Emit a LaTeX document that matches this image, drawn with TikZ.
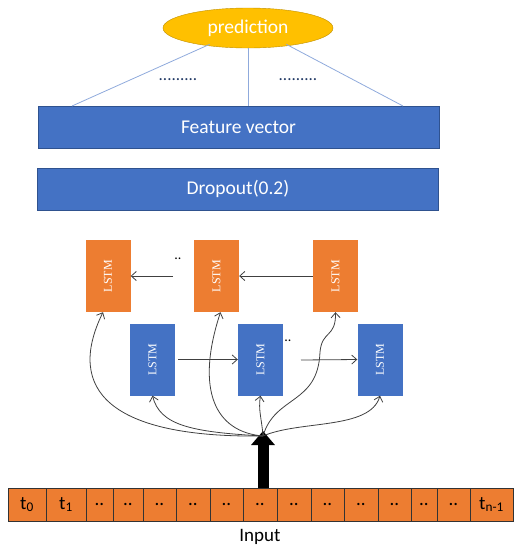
\documentclass[tikz,border=0pt]{standalone}
\usepackage{fontspec}
\setmainfont{Carlito}
\newfontfamily\lstmfont{Liberation Serif}
\usepackage{tikz}
\usepackage{xcolor}
\usetikzlibrary{positioning, arrows.meta, shapes.geometric, calc}
\definecolor{mBlue}{HTML}{4472C4}
\definecolor{mBlueDark}{HTML}{2F528F}
\definecolor{mOrange}{HTML}{ED7D31}
\definecolor{mGold}{HTML}{FFC000}
\definecolor{mGoldDark}{HTML}{C09000}
\definecolor{mLine}{HTML}{8FAADC}
\definecolor{mNavy}{HTML}{203864}
\definecolor{mGray}{HTML}{404040}

\begin{document}
\begin{tikzpicture}[
  x=1pt, y=-1pt,
  bar/.style={draw=mBlueDark, fill=mBlue, text=white, minimum width=401pt,
              minimum height=42pt, inner sep=0pt, font=\fontsize{19.5}{23}\selectfont},
  fwd/.style={fill=mBlue, minimum width=45pt, minimum height=72pt, inner sep=0pt},
  bwd/.style={fill=mOrange, minimum width=45pt, minimum height=72pt, inner sep=0pt},
  lbl/.style={text=white, rotate=90, font=\lstmfont\fontsize{12}{14}\selectfont},
  cell/.style={draw=black!80, fill=mOrange, minimum height=33pt, inner sep=0pt,
               font=\fontsize{19}{22}\selectfont},
  link/.style={draw=mGray, line width=0.8pt, -{Straight Barb[length=5pt,width=9pt]}},
]
  \useasboundingbox (0,0) rectangle (521,550);

  % output side
  \node[ellipse, draw=mGoldDark, fill=mGold, text=white, minimum width=170pt,
        minimum height=40pt, inner sep=0pt, font=\fontsize{19.5}{23}\selectfont]
        (pred) at (248,28) {prediction};
  \node[bar] (feat) at (238.5,127) {Feature vector};
  \node[bar] (drop) at (238,189) {Dropout(0.2)};
  \draw[mLine, line width=0.8pt] (pred.south west) ++(22,2) coordinate (pl) -- (72,106) coordinate (fl);
  \draw[mLine, line width=0.8pt] (pred.south) -- (pred.south |- feat.north);
  \draw[mLine, line width=0.8pt] (pred.south east) ++(-22,2) coordinate (pr) -- (403,106) coordinate (fr);
  \node[text=mNavy, font=\fontsize{17}{20}\selectfont] (dl) at (178,80) {.........};
  \node[text=mNavy, font=\fontsize{17}{20}\selectfont] (dr) at (298,80) {.........};

  % backward LSTM row
  \node[bwd] (b1) at (108,276) {};
  \node[bwd] (b2) at (216.5,276) {};
  \node[bwd] (b3) at (335.5,276) {};
  % forward LSTM row
  \node[fwd] (f1) at (152.5,359.5) {};
  \node[fwd] (f2) at (260.5,359.5) {};
  \node[fwd] (f3) at (380,359.5) {};
  \foreach \n in {b1,b2,b3,f1,f2,f3}
    \node[lbl] at (\n) {LSTM};

  \coordinate (bgap) at (173,276);
  \coordinate (fgap) at (301,360);
  \node[font=\fontsize{14}{16}\selectfont] (bdots) at (178,259) {..};
  \node[font=\fontsize{14}{16}\selectfont] (fdots) at (288,341) {..};
  \draw[link] (bgap) -- (b1.east);
  \draw[link] (b3.west) -- (b2.east);
  \draw[link] ([xshift=3pt]f1.east) -- (f2.west);
  \draw[link] (fgap) -- (f3.west);

  % input sequence
  \def\edges{8,46,86,113,143,176,210,243,277,311,344,378,411,437,470,513}
  \foreach \l [count=\i] in {t\textsubscript{0},t\textsubscript{1},..,..,..,..,..,..,..,..,..,..,..,..,t\textsubscript{n-1}} {
    \pgfmathsetmacro{\xa}{{\edges}[\i-1]}
    \pgfmathsetmacro{\xb}{{\edges}[\i]}
    \node[cell, minimum width={\xb-\xa}] (c\i) at ({(\xa+\xb)/2},504.5) {\l};
  }
  \node[font=\fontsize{19}{22}\selectfont] (inp) at (260,537) {Input};

  % fan-out of the input
  \coordinate (src) at (263,436);
  \draw[line width=11pt, -{Triangle[length=14pt,width=23pt]}] (src |- c8.north) -- ([yshift=5pt]src);
  \draw[link] (src) .. controls (110,438) and (65,390) .. ([xshift=-5pt]b1.south);
  \draw[link] (src) .. controls (190,432) and (160,425) .. (f1.south);
  \draw[link] (src) .. controls (215,432) and (195,390) .. ([xshift=4pt]b2.south);
  \draw[link] (src) .. controls (262,420) and (258,410) .. (f2.south);
  \draw[link] (src) .. controls (275,395) and (318,405) .. (320,352)
                    .. controls (322,330) and (336,338) .. (b3.south);
  \draw[link] (src) .. controls (300,420) and (370,430) .. (f3.south);
\end{tikzpicture}
\end{document}
